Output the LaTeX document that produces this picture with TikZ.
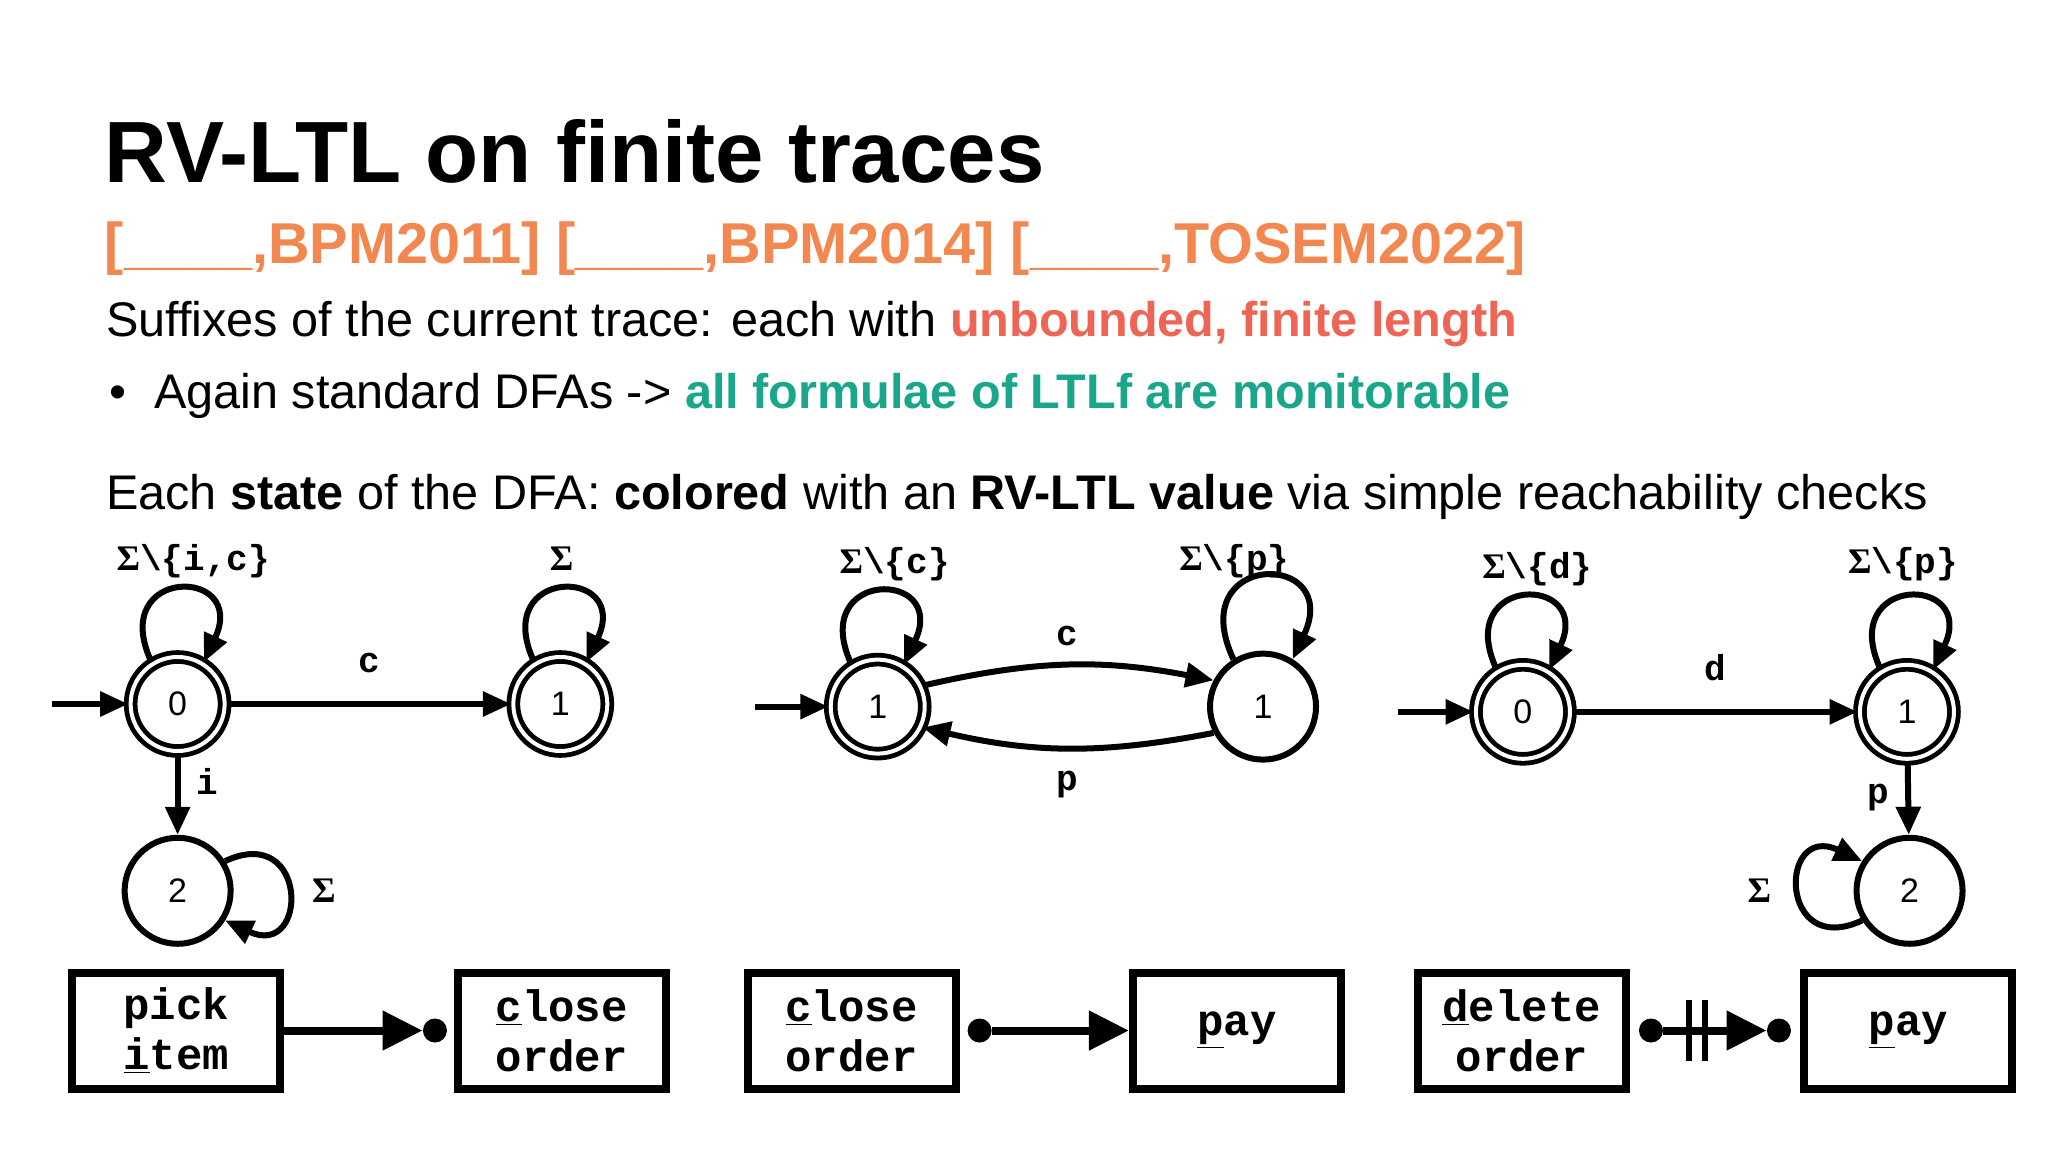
\documentclass[tikz,border=0pt]{standalone}
\usepackage{fontspec}
\setmainfont{Liberation Sans}
\newfontfamily\mono{Liberation Mono}
\newfontfamily\serf{Liberation Serif}
\usetikzlibrary{arrows.meta}
\definecolor{refc}{HTML}{F2884F}
\definecolor{redc}{HTML}{EE6555}
\definecolor{grnc}{HTML}{19A68A}
\newcommand{\Sg}{{\serf\fontsize{18}{18}\selectfont\char"03A3}}
\tikzset{
 every node/.style={inner sep=0pt},
 st/.style={circle,draw,line width=3pt,minimum size=53pt,font=\fontsize{17}{17}\selectfont},
 acc/.style={st,double,line width=2.4pt,double distance=2pt,minimum size=47pt},
 arr/.style={line width=3pt,-{Triangle[length=14pt,width=12pt]}},
 lp/.style={arr,looseness=5.2},
 sp/.style={arr,looseness=4},
 lbl/.style={font=\mono\bfseries\fontsize{18}{18}\selectfont},
 box/.style={draw,line width=4pt,minimum width=104pt,minimum height=58pt,align=center,font=\mono\bfseries\fontsize{22}{22}\selectfont},
 barr/.style={line width=4pt,-{Triangle[length=20pt,width=19pt]}},
 dot/.style={circle,fill,minimum size=12pt}
}
\begin{document}
\begin{tikzpicture}[x=0.653pt,y=-0.653pt]
\useasboundingbox (0,0) rectangle (1568,882);
% texts
\node[anchor=base west,font=\bfseries\fontsize{43.5}{43.5}\selectfont] (title) at (80,140) {RV-LTL on finite traces};
\node[anchor=base west,font=\bfseries\fontsize{28.8}{28.8}\selectfont,text=refc] (refs) at (80,202) {[\_\_\_\_,BPM2011] [\_\_\_\_,BPM2014] [\_\_\_\_,TOSEM2022]};
\node[anchor=base west,font=\fontsize{24.3}{24.3}\selectfont] (suf) at (81,258) {Suffixes of the current trace: each with \textcolor{redc}{\bfseries unbounded, finite length}};
\node[anchor=base west,font=\fontsize{24.3}{24.3}\selectfont] (bul) at (81,313) {\hspace{24pt}\llap{\textbullet\hspace{14pt}}Again standard DFAs -> \textcolor{grnc}{\bfseries all formulae of LTLf are monitorable}};
\node[anchor=base west,font=\fontsize{24.3}{24.3}\selectfont] (each) at (81,390) {Each \textbf{state} of the DFA: \textbf{colored} with an \textbf{RV-LTL value} via simple reachability checks};
% automaton 1
\node[acc] (a0) at (136,539) {0};
\node[acc] (a1) at (429,539) {1};
\node[st] (a2) at (136,682) {2};
\coordinate (ai) at (40,539);
\draw[arr] (ai) -- (a0);
\draw[arr] (a0) -- node[lbl,above=14pt] {c} (a1);
\draw[arr] (a0) -- node[lbl,right=8pt,pos=0.35] {i} (a2);
\draw[lp] (a0.122) to[out=115,in=65] (a0.58);
\draw[lp] (a1.122) to[out=115,in=65] (a1.58);
\draw[sp] (a2.32) to[out=25,in=-25] (a2.-32);
\node[lbl] (l1) at (148,430) {\Sg\textbackslash\{i,c\}};
\node[lbl] (l2) at (430,428) {\Sg};
\node[lbl] (l3) at (248,682) {\Sg};
% automaton 2
\node[acc] (b0) at (672,541) {1};
\node[st] (b1) at (967,541) {1};
\coordinate (bi) at (578,541);
\draw[arr] (bi) -- (b0);
\draw[arr] (b0.25) to[bend left=12] node[lbl,above=8pt] {c} (b1.152);
\draw[arr] (b1.-152) to[bend left=12] node[lbl,below=10pt] {p} (b0.-25);
\draw[lp] (b0.122) to[out=115,in=65] (b0.58);
\draw[lp] (b1.122) to[out=115,in=65] (b1.58);
\node[lbl] (l4) at (685,432) {\Sg\textbackslash\{c\}};
\node[lbl] (l5) at (945,430) {\Sg\textbackslash\{p\}};
% automaton 3
\node[acc] (c0) at (1166,545) {0};
\node[acc] (c1) at (1460,545) {1};
\node[st] (c2) at (1462,682) {2};
\coordinate (ci) at (1070,545);
\draw[arr] (ci) -- (c0);
\draw[arr] (c0) -- node[lbl,above=14pt] {d} (c1);
\draw[arr] (c1) -- node[lbl,left=8pt,pos=0.5] {p} (c2);
\draw[lp] (c0.122) to[out=115,in=65] (c0.58);
\draw[lp] (c1.122) to[out=115,in=65] (c1.58);
\draw[sp] (c2.-148) to[out=-155,in=155] (c2.148);
\node[lbl] (l6) at (1177,436) {\Sg\textbackslash\{d\}};
\node[lbl] (l7) at (1457,432) {\Sg\textbackslash\{p\}};
\node[lbl] (l8) at (1347,682) {\Sg};
% boxes
\node[box] (p1) at (135,789) {pick\\[3pt]\underline{i}tem};
\node[box] (p2) at (430,789) {\underline{c}lose\\[3pt]order};
\node[box] (p3) at (652,789) {\underline{c}lose\\[3pt]order};
\node[box] (p4) at (947,789) {\underline{p}ay};
\node[box] (p5) at (1165,789) {\underline{d}elete\\[3pt]order};
\node[box] (p6) at (1461,789) {\underline{p}ay};
\node[dot] (d1) at (333,789) {};
\node[dot] (d2) at (750,789) {};
\node[dot] (d3) at (1264,789) {};
\node[dot] (d4) at (1362,789) {};
\draw[barr] (p1) -- (d1);
\draw[barr] (d2) -- (p4);
\draw[barr] (d3) -- (d4);
\coordinate (k1) at (1293,766); \coordinate (k2) at (1293,812);
\coordinate (k3) at (1305,766); \coordinate (k4) at (1305,812);
\draw[line width=3pt] (k1) -- (k2);
\draw[line width=3pt] (k3) -- (k4);
\end{tikzpicture}
\end{document}
